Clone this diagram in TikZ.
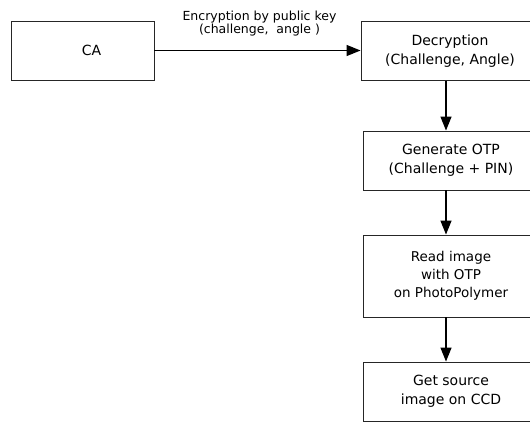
\documentclass[tikz,border=0pt]{standalone}
\usepackage{fontspec}
\setmainfont{DejaVu Sans}
\usetikzlibrary{arrows.meta}
\begin{document}
\begin{tikzpicture}[x=1pt,y=-1pt,
  box/.style={draw=black!85, line width=0.9pt, rectangle, inner sep=0pt,
    align=center, font=\fontsize{14}{19}\selectfont},
  arr/.style={draw=black, line width=1.3pt,
    -{Triangle[length=14pt,width=11pt]}},
  lbl/.style={align=center, inner sep=0pt, font=\fontsize{12.5}{13}\selectfont}]
  \useasboundingbox (0,0) rectangle (530,423);
  \clip (0,0) rectangle (530,423);
  \fill[white] (0,0) rectangle (530,423);
  % source box
  \node[box, minimum width=143pt, minimum height=59pt] (ca) at (82.5,50.5) {\hspace*{18pt}CA};
  % processing chain on the right (boxes run past the right border)
  \node[box, minimum width=178pt, minimum height=59pt] (dec) at (450,51)
    {Decryption\\(Challenge, Angle)};
  \node[box, minimum width=176pt, minimum height=59pt] (gen) at (451,160.5)
    {Generate OTP\\(Challenge + PIN)};
  \node[box, minimum width=176pt, minimum height=82pt,
    font=\fontsize{13.5}{18}\selectfont] (read) at (451,276)
    {Read image\\with OTP\\on PhotoPolymer};
  \node[box, minimum width=176pt, minimum height=59pt] (get) at (451,391.5)
    {Get source\\image on CCD};
  \coordinate (axis) at (446,0);
  % connectors
  \draw[arr] (ca.east) -- (ca.east -| dec.west)
    node[lbl, midway, anchor=center, yshift=27pt, xshift=2pt]
      {Encryption by public key\\(challenge,\ \ angle )};
  \draw[arr] (dec.south -| axis) -- (gen.north -| axis);
  \draw[arr] (gen.south -| axis) -- (read.north -| axis);
  \draw[arr] (read.south -| axis) -- (get.north -| axis);
\end{tikzpicture}
\end{document}
